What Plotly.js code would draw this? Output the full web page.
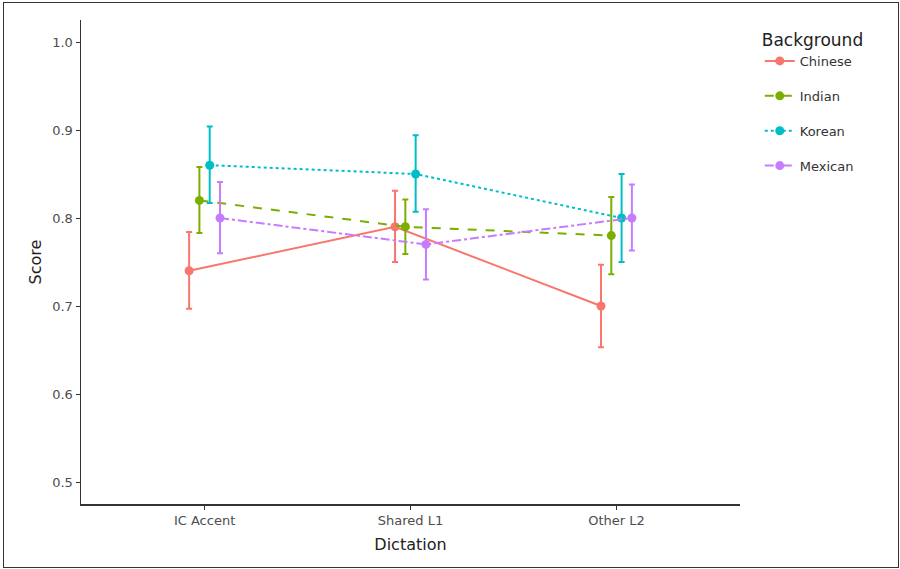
<!DOCTYPE html>
<html>
<head>
<meta charset="utf-8">
<script src="https://cdn.plot.ly/plotly-3.0.1.min.js"></script>
<style>
  html, body { margin: 0; padding: 0; background: #fff; }
  #chart { width: 900px; height: 569px; }
  #frame { position: absolute; left: 3px; top: 2px; width: 894px; height: 564px; border: 1.5px solid #333; pointer-events: none; }
</style>
</head>
<body>
<div id="chart"></div>
<div id="frame"></div>
<script>
const categories = ["IC Accent", "Shared L1", "Other L2"];
const groups = ["Chinese", "Indian", "Korean", "Mexican"];
const colors = ["#F8766D", "#7CAE00", "#00BFC4", "#C77CFF"];
const dashes = ["solid", "dash", "dot", "dashdot"];
const dodge = [-0.075, -0.025, 0.025, 0.075];

const meanChinese = [0.74, 0.79, 0.70];
const lowChinese  = [0.697, 0.750, 0.653];
const highChinese = [0.784, 0.831, 0.747];

const meanIndian = [0.82, 0.79, 0.78];
const lowIndian  = [0.783, 0.759, 0.736];
const highIndian = [0.858, 0.821, 0.824];

const meanKorean = [0.86, 0.85, 0.80];
const lowKorean  = [0.817, 0.807, 0.750];
const highKorean = [0.904, 0.894, 0.850];

const meanMexican = [0.80, 0.77, 0.80];
const lowMexican  = [0.760, 0.730, 0.763];
const highMexican = [0.841, 0.810, 0.838];

const means = [meanChinese, meanIndian, meanKorean, meanMexican];
const lows = [lowChinese, lowIndian, lowKorean, lowMexican];
const highs = [highChinese, highIndian, highKorean, highMexican];

const traces = groups.map((g, i) => ({
  type: "scatter",
  mode: "lines+markers",
  name: g,
  legendgroup: g,
  x: categories.map((c, j) => j + 1 + dodge[i]),
  y: means[i],
  line: { color: colors[i], width: 2, dash: dashes[i] },
  marker: { color: colors[i], size: 9 },
  error_y: {
    type: "data",
    symmetric: false,
    array: means[i].map((m, j) => highs[i][j] - m),
    arrayminus: means[i].map((m, j) => m - lows[i][j]),
    color: colors[i],
    thickness: 2,
    width: 3
  }
}));

const layout = {
  width: 900, height: 569,
  paper_bgcolor: "#fff", plot_bgcolor: "#fff",
  margin: { l: 81, r: 160, t: 20, b: 65 },
  font: { family: "DejaVu Sans, Verdana, sans-serif", color: "#4d4d4d" },
  showlegend: true,
  legend: {
    x: 1.03, xanchor: "left", y: 0.992, yanchor: "top",
    title: { text: "Background", font: { size: 17, color: "#222" } },
    font: { size: 13, color: "#333" },
    tracegroupgap: 15
  },
  xaxis: {
    range: [0.4, 3.6],
    tickvals: [1, 2, 3],
    ticktext: categories,
    showgrid: false, zeroline: false,
    showline: true, linecolor: "#333", linewidth: 1.5,
    ticks: "outside", ticklen: 4, tickcolor: "#333",
    tickfont: { size: 13, color: "#4d4d4d" },
    title: { text: "Dictation", font: { size: 16, color: "#222" }, standoff: 11 }
  },
  yaxis: {
    range: [0.475, 1.025],
    tickvals: [0.5, 0.6, 0.7, 0.8, 0.9, 1.0],
    ticktext: ["0.5", "0.6", "0.7", "0.8", "0.9", "1.0"],
    showgrid: false, zeroline: false,
    showline: true, linecolor: "#333", linewidth: 1.5,
    ticks: "outside", ticklen: 4, tickcolor: "#333",
    tickfont: { size: 13, color: "#4d4d4d" },
    title: { text: "Score", font: { size: 16, color: "#222" }, standoff: 6 }
  }
};

Plotly.newPlot("chart", traces, layout, { displayModeBar: false, staticPlot: true });
</script>
</body>
</html>
